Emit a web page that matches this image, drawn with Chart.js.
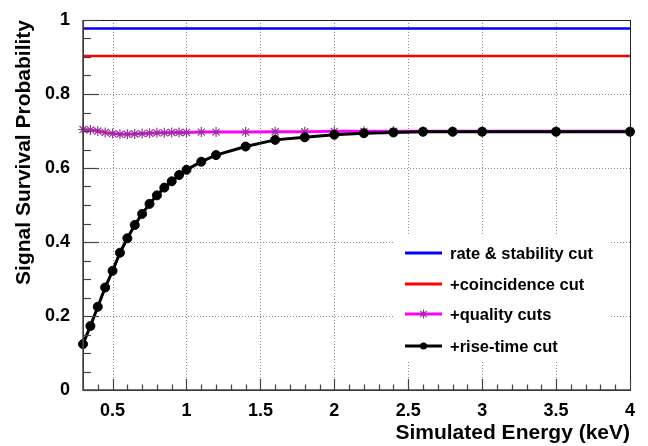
<!DOCTYPE html>
<html>
<head>
<meta charset="utf-8">
<script src="https://cdn.jsdelivr.net/npm/chart.js@4"></script>
<style>
html,body{margin:0;padding:0;background:#fff;}
#wrap{width:648px;height:446px;position:relative;}
</style>
</head>
<body>
<div id="wrap"><canvas id="c" width="648" height="446"></canvas></div>
<script>
// ---- data ----
const energy = [0.3,0.35,0.4,0.45,0.5,0.55,0.6,0.65,0.7,0.75,0.8,0.85,0.9,0.95,1.0,1.1,1.2,1.4,1.6,1.8,2.0,2.2,2.4,2.6,2.8,3.0,3.5,4.0];
const riseTimeCut = [0.124,0.173,0.225,0.277,0.322,0.371,0.410,0.446,0.476,0.503,0.526,0.547,0.564,0.581,0.595,0.617,0.635,0.658,0.676,0.683,0.690,0.694,0.696,0.698,0.698,0.698,0.698,0.698];
const qualityCuts = [0.704,0.703,0.700,0.696,0.693,0.691,0.691,0.692,0.693,0.694,0.695,0.695,0.696,0.696,0.696,0.697,0.697,0.697,0.698,0.698,0.699,0.699,0.699,0.699,0.699,0.699,0.699,0.699];
const flatEnergy = [0.3, 4.0];
const rateStabilityCut = [0.977, 0.977];
const coincidenceCut = [0.903, 0.903];
const seriesLabels = ['rate & stability cut','+coincidence cut','+quality cuts','+rise-time cut'];
const xTickValues = [0.5,1,1.5,2,2.5,3,3.5,4];
const xTickLabels = ['0.5','1','1.5','2','2.5','3','3.5','4'];
const yTickValues = [0,0.2,0.4,0.6,0.8,1];
const yTickLabels = ['0','0.2','0.4','0.6','0.8','1'];

const pts = (xs, ys) => xs.map((x,i)=>({x:x,y:ys[i]}));

const FONT = '"Liberation Sans", Arial, Helvetica, sans-serif';

const framePlugin = {
  id:'frame',
  beforeDatasetsDraw(chart){
    const {ctx, chartArea:a, scales:{x,y}} = chart;
    ctx.save();
    ctx.strokeStyle = '#8a8a8a';
    ctx.lineWidth = 1;
    ctx.setLineDash([1,2]);
    xTickValues.forEach(v=>{
      if (v>=4) return;
      const px = Math.round(x.getPixelForValue(v))+0.5;
      ctx.beginPath(); ctx.moveTo(px,a.top); ctx.lineTo(px,a.bottom); ctx.stroke();
    });
    yTickValues.forEach(v=>{
      if (v<=0 || v>=1) return;
      const py = Math.round(y.getPixelForValue(v))+0.5;
      ctx.beginPath(); ctx.moveTo(a.left,py); ctx.lineTo(a.right,py); ctx.stroke();
    });
    ctx.restore();
  },
  afterDatasetsDraw(chart){
    const {ctx, chartArea:a, scales:{x,y}} = chart;
    ctx.save();
    // frame
    ctx.strokeStyle = '#222';
    ctx.lineWidth = 1;
    ctx.strokeRect(Math.round(a.left)+0.5, Math.round(a.top)+0.5, Math.round(a.right-a.left), Math.round(a.bottom-a.top));
    ctx.lineWidth = 1.5;
    ctx.strokeStyle = '#444';
    ctx.beginPath(); ctx.moveTo(a.left, a.top); ctx.lineTo(a.left, a.bottom); ctx.lineTo(a.right, a.bottom); ctx.stroke();
    ctx.lineWidth = 1.2;
    // y ticks
    for (let i=0;i<=20;i++){
      const v = i*0.05;
      const py = Math.round(y.getPixelForValue(v))+0.5;
      const len = (i%4===0) ? 16 : 8;
      ctx.beginPath(); ctx.moveTo(a.left,py); ctx.lineTo(a.left+len,py); ctx.stroke();
    }
    // x ticks
    for (let i=3;i<=40;i++){
      const v = i*0.1;
      const px = Math.round(x.getPixelForValue(v))+0.5;
      const len = (i%5===0) ? 11 : 5.5;
      ctx.beginPath(); ctx.moveTo(px,a.bottom); ctx.lineTo(px,a.bottom-len); ctx.stroke();
    }
    // legend
    ctx.fillStyle = '#fff';
    ctx.fillRect(395, 236, 215, 126);
    const rows = [253, 284, 314, 346];
    const order = [3,2,1,0]; // dataset index for each legend row
    ctx.font = 'bold 16.5px ' + FONT;
    ctx.textBaseline = 'middle';
    rows.forEach((ry,i)=>{
      const ds = chart.data.datasets[order[i]];
      ctx.strokeStyle = ds.borderColor;
      ctx.lineWidth = 3;
      ctx.beginPath(); ctx.moveTo(405, ry); ctx.lineTo(442, ry); ctx.stroke();
      if (ds.pointRadius > 0){
        ctx.fillStyle = ds.pointBackgroundColor;
        ctx.strokeStyle = ds.pointBorderColor;
        ctx.lineWidth = ds.pointBorderWidth;
        ctx.beginPath();
        if (ds.pointStyle === 'circle'){
          ctx.arc(423.5, ry, 3.5, 0, Math.PI*2); ctx.fill();
        } else {
          const r = 4.5;
          for (let k=0;k<4;k++){
            const ang = k*Math.PI/4;
            ctx.moveTo(423.5+Math.cos(ang)*r, ry+Math.sin(ang)*r);
            ctx.lineTo(423.5-Math.cos(ang)*r, ry-Math.sin(ang)*r);
          }
          ctx.stroke();
        }
      }
      ctx.fillStyle = '#000';
      ctx.fillText(ds.label, 450, ry+1);
    });
    ctx.restore();
  }
};

new Chart(document.getElementById('c'), {
  type:'line',
  data:{
    datasets:[
      {label:seriesLabels[3], data:pts(energy,riseTimeCut), borderColor:'#000', backgroundColor:'#000',
       borderWidth:3, pointStyle:'circle', pointRadius:4.5, pointBackgroundColor:'#000', pointBorderColor:'#000', pointBorderWidth:1, order:0},
      {label:seriesLabels[2], data:pts(energy,qualityCuts), borderColor:'#ff00ff', backgroundColor:'#ff00ff',
       borderWidth:3, pointStyle:'star', pointRadius:5, pointBackgroundColor:'#993399', pointBorderColor:'#993399', pointBorderWidth:1.2, order:1},
      {label:seriesLabels[1], data:pts(flatEnergy,coincidenceCut), borderColor:'#ff0000', backgroundColor:'#ff0000',
       borderWidth:2.5, pointRadius:0, order:2},
      {label:seriesLabels[0], data:pts(flatEnergy,rateStabilityCut), borderColor:'#0000ff', backgroundColor:'#0000ff',
       borderWidth:2.5, pointRadius:0, order:3}
    ]
  },
  options:{
    responsive:false,
    animation:false,
    clip:false,
    layout:{padding:{left:0,right:18,top:20,bottom:0}},
    plugins:{legend:{display:false}, tooltip:{enabled:false}},
    elements:{line:{tension:0}},
    scales:{
      x:{
        type:'linear', min:0.3, max:4,
        afterBuildTicks:s=>{s.ticks = xTickValues.map(v=>({value:v}));},
        afterFit:s=>{s.height = 56;},
        grid:{display:false}, border:{display:false},
        ticks:{color:'#000', padding:2, font:{family:FONT, size:18, weight:'bold'}, maxRotation:0, autoSkip:false,
               callback:(v)=>{const i = xTickValues.indexOf(v); return i>=0 ? xTickLabels[i] : '';}},
        title:{display:true, text:'Simulated Energy (keV)', align:'end', color:'#000', padding:{top:0,bottom:0}, font:{family:FONT, size:21, weight:'bold'}}
      },
      y:{
        type:'linear', min:0, max:1,
        afterBuildTicks:s=>{s.ticks = yTickValues.map(v=>({value:v}));},
        afterFit:s=>{s.width = 83;},
        grid:{display:false}, border:{display:false},
        ticks:{color:'#000', padding:5, font:{family:FONT, size:18, weight:'bold'}, autoSkip:false,
               callback:(v)=>{const i = yTickValues.indexOf(v); return i>=0 ? yTickLabels[i] : '';}},
        title:{display:true, text:'Signal Survival Probability', align:'end', color:'#000', padding:{top:12,bottom:0}, font:{family:FONT, size:21, weight:'bold'}}
      }
    }
  },
  plugins:[framePlugin]
});
</script>
</body>
</html>
